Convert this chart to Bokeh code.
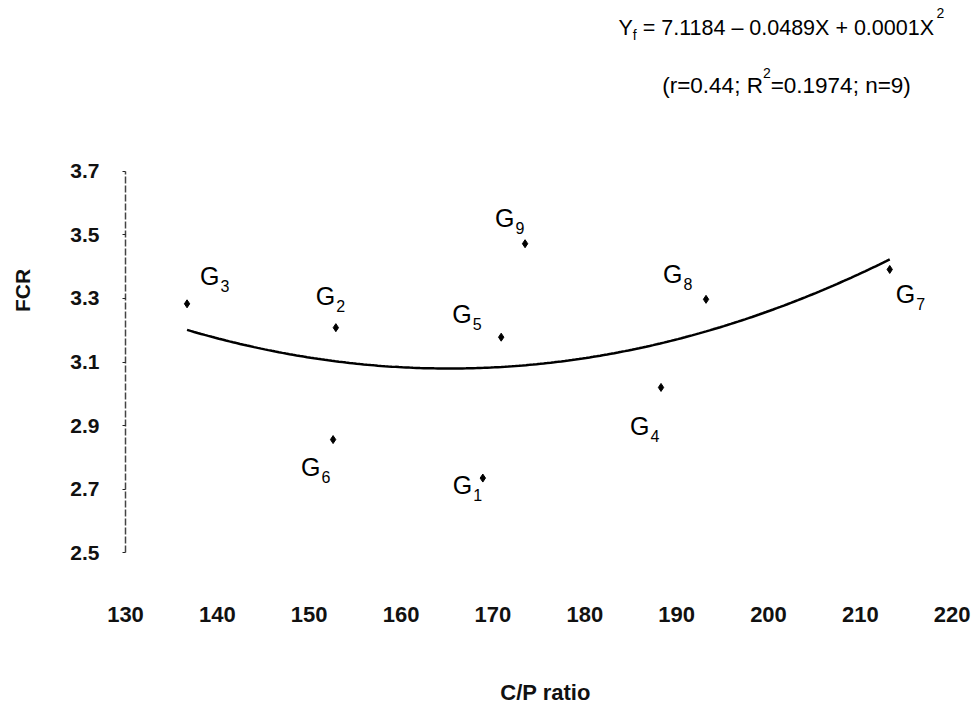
import numpy as np
from bokeh.plotting import figure
from bokeh.models import ColumnDataSource, Label, FixedTicker, Range1d
from bokeh.core.properties import value
from bokeh.embed import file_html
from bokeh.resources import INLINE

# ---------------- data ----------------
groups   = ["1", "2", "3", "4", "5", "6", "7", "8", "9"]
cp_ratio = [168.9, 152.9, 136.7, 188.3, 170.9, 152.6, 213.2, 193.2, 173.5]
fcr      = [2.735, 3.208, 3.283, 3.020, 3.178, 2.856, 3.391, 3.297, 3.472]
x_ticks  = [130, 140, 150, 160, 170, 180, 190, 200, 210, 220]
y_ticks  = [2.5, 2.7, 2.9, 3.1, 3.3, 3.5, 3.7]
eq_line1 = ["Y", "f", "= 7.1184 \u2013 0.0489X + 0.0001X", "2"]
eq_line2 = ["(r=0.44; R", "2", "=0.1974; n=9)"]
x_title = "C/P ratio"
y_title = "FCR"

# ---------------- styles / layout ----------------
W, H = 979, 707
FL, FR, FT, FB = 125, 965, 5, 575   # frame edges in pixels
FONT = "Liberation Sans"
BASE_FIX = 0.44   # rendered alphabetic baseline sits this many em lower than requested
# label offsets (pixels, relative to the point): (dx to left of "G", dy to baseline, + = down)
label_off = {"1": (-30, 18), "2": (-20, -21), "3": (13, -17), "4": (-31, 50),
             "5": (-49, -12), "6": (-32, 38), "7": (6, 36), "8": (-43, -14), "9": (-30, -15)}
G_SIZE, SUB_SIZE = 25, 16

AW = {c: .556 for c in "0123456789"}
AW.update({".": .278, " ": .278, "=": .584, "+": .584, "\u2013": .556, "X": .667, "Y": .667,
           "f": .278, "(": .333, ")": .333, "r": .333, ";": .278, "R": .722, "n": .556, "G": .778})
def tw(s, size):
    return sum(AW.get(c, .556) for c in s) * size

px_per_x = (951.7 - 125.0) / 90.0
px_per_y = 318.0
x_end = 130 + (FR - FL) / px_per_x
y_start = 2.5 - (FB - 552.3) / px_per_y
y_end = 2.5 + (552.3 - FT) / px_per_y

p = figure(width=W, height=H, x_range=Range1d(130, x_end), y_range=Range1d(y_start, y_end),
           min_border_left=FL, min_border_right=W - FR, min_border_top=FT, min_border_bottom=H - FB,
           toolbar_location=None, output_backend="svg")
p.outline_line_color = None
p.xgrid.visible = False
p.ygrid.visible = False
p.background_fill_color = "white"
p.border_fill_color = "white"

# x axis
xa = p.xaxis[0]
xa.ticker = FixedTicker(ticks=x_ticks)
xa.axis_line_color = None
xa.major_tick_line_color = None
xa.minor_tick_line_color = None
xa.major_tick_out = 0
xa.major_label_standoff = 31
xa.major_label_text_font = FONT
xa.major_label_text_font_style = "bold"
xa.major_label_text_font_size = "22px"
xa.major_label_text_color = "#111111"
xa.axis_label = x_title
xa.axis_label_text_font = FONT
xa.axis_label_text_font_style = "bold"
xa.axis_label_text_font_size = "22px"
xa.axis_label_text_color = "#111111"
xa.axis_label_standoff = 55

# y axis
ya = p.yaxis[0]
ya.ticker = FixedTicker(ticks=y_ticks)
ya.bounds = (min(y_ticks), max(y_ticks))
ya.axis_line_color = "#444444"
ya.axis_line_dash = "7 2"
ya.axis_line_width = 1.5
ya.major_tick_line_color = "#222222"
ya.major_tick_out = 3
ya.major_tick_in = 0
ya.minor_tick_line_color = None
ya.major_label_standoff = 23
ya.major_label_text_font = FONT
ya.major_label_text_font_style = "bold"
ya.major_label_text_font_size = "21px"
ya.major_label_text_color = "#111111"
ya.axis_label = y_title
ya.axis_label_text_font = FONT
ya.axis_label_text_font_style = "bold"
ya.axis_label_text_font_size = "21px"
ya.axis_label_text_color = "#111111"
ya.axis_label_standoff = 33

# regression curve (quadratic least-squares fit of the plotted points)
coef = np.polyfit(cp_ratio, fcr, 2)
xs = np.linspace(min(cp_ratio), max(cp_ratio), 200)
p.line(xs, np.polyval(coef, xs), line_color="black", line_width=2.5)

# points and their labels
src = ColumnDataSource(dict(
    x=cp_ratio, y=fcr, g=["G"] * len(groups), sub=groups,
    dx=[label_off[g][0] for g in groups],
    dy=[label_off[g][1] - BASE_FIX * G_SIZE for g in groups],
    sdx=[label_off[g][0] + tw("G", G_SIZE) + 1 for g in groups],
    sdy=[label_off[g][1] + 6 - BASE_FIX * SUB_SIZE for g in groups],
))
p.scatter("x", "y", source=src, marker="diamond", size=8, color="black")
p.text("x", "y", text="g", source=src, x_offset="dx", y_offset="dy",
       text_font=value(FONT), text_font_size=f"{G_SIZE}px", text_color="black",
       text_align="left", text_baseline="alphabetic")
p.text("x", "y", text="sub", source=src, x_offset="sdx", y_offset="sdy",
       text_font=value(FONT), text_font_size=f"{SUB_SIZE}px", text_color="black",
       text_align="left", text_baseline="alphabetic")

# equation text (screen units relative to the frame's bottom-left)
def add_text(txt, px, py, size):
    py = py - BASE_FIX * size
    p.add_layout(Label(x=px - FL, y=FB - py, x_units="screen", y_units="screen", text=txt,
                       text_font=FONT, text_font_size=f"{size}px", text_color="black",
                       text_align="left", text_baseline="alphabetic"))

MAIN, MAIN2, SMALL = 21.5, 22.5, 14
x0, base = 618, 37
add_text(eq_line1[0], x0, base, MAIN)
x1 = x0 + tw(eq_line1[0], MAIN)
add_text(eq_line1[1], x1, base + 4, SMALL)
x2 = x1 + tw(eq_line1[1], SMALL) + tw(" ", MAIN)
add_text(eq_line1[2], x2, base, MAIN)
x3 = x2 + tw(eq_line1[2], MAIN) + 1
add_text(eq_line1[3], x3, base - 18, SMALL)

w2 = tw(eq_line2[0], MAIN2) + tw(eq_line2[1], SMALL) + tw(eq_line2[2], MAIN2)
x0, base = 786 - w2 / 2, 95
add_text(eq_line2[0], x0, base, MAIN2)
x1 = x0 + tw(eq_line2[0], MAIN2)
add_text(eq_line2[1], x1, base - 16, SMALL)
x2 = x1 + tw(eq_line2[1], SMALL)
add_text(eq_line2[2], x2, base, MAIN2)

open("out.html", "w").write(file_html(p, INLINE))
